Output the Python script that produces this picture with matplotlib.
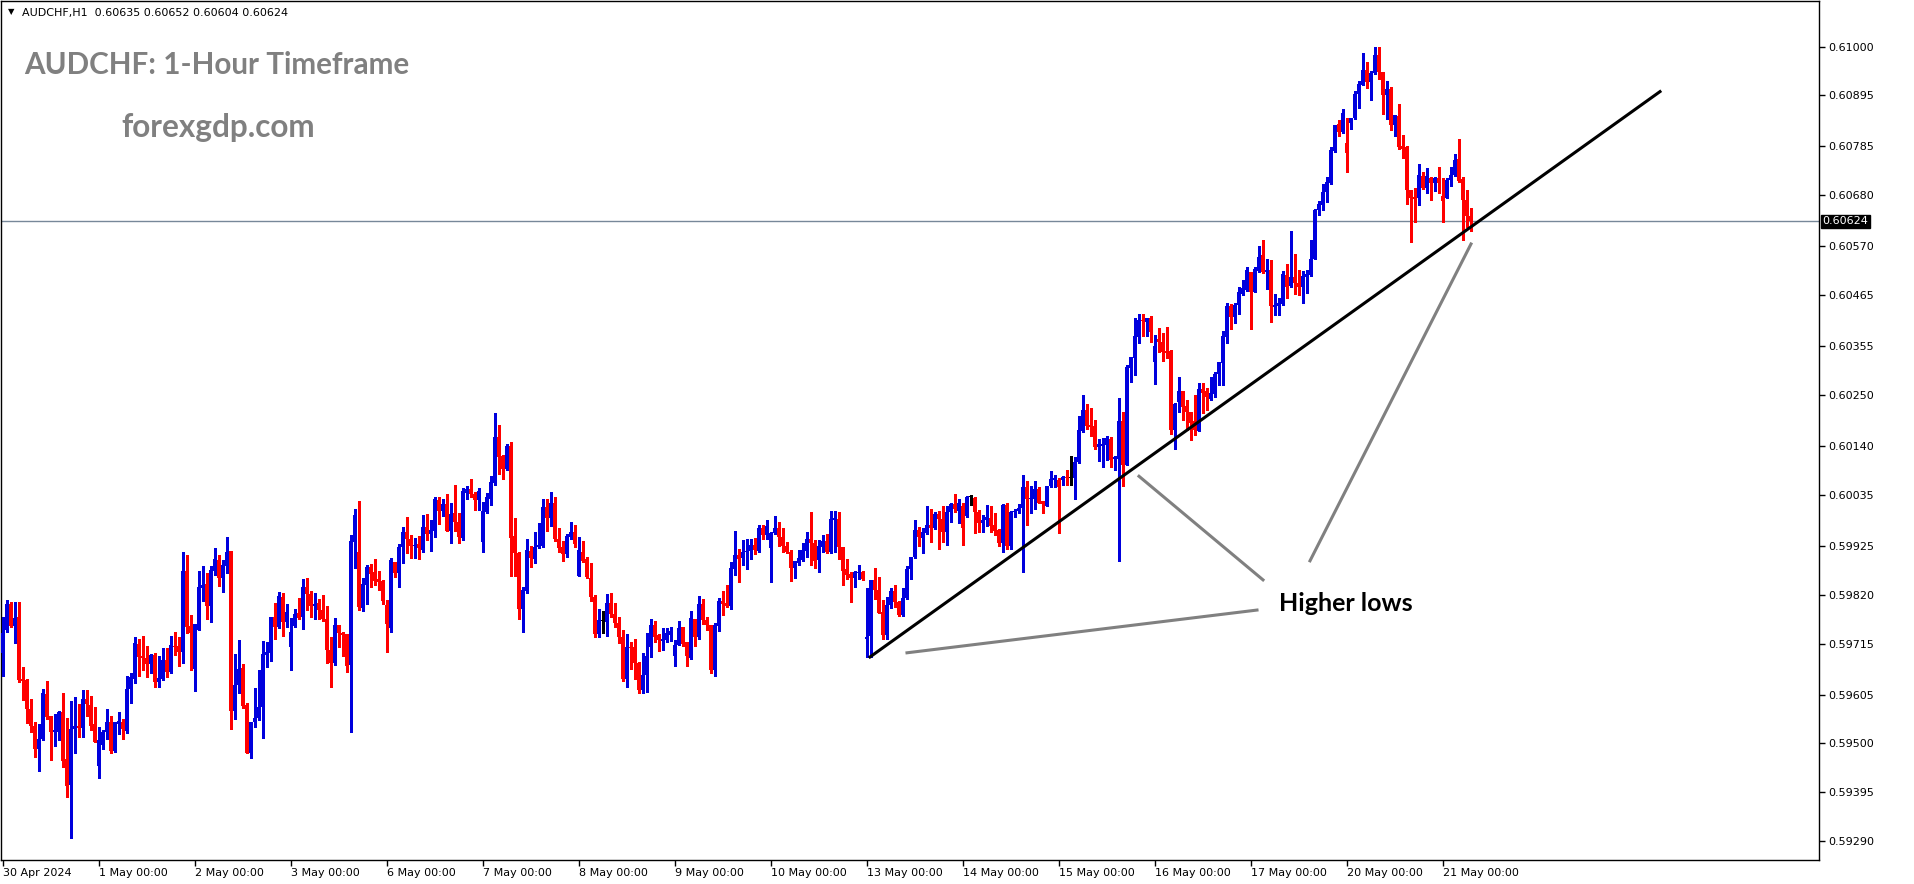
import matplotlib.pyplot as plt
import matplotlib.transforms as mtransforms
import numpy as np

# AUDCHF H1 candles, prices in 1e-5 units, bar 0 = 30 Apr 00:00
opens = [
    59694, 59743, 59800, 59753, 59772, 59638, 59636, 59574, 59538, 59488, 59509, 59607,
    59559, 59525, 59525, 59568, 59466, 59411, 59531, 59537, 59534, 59596, 59583, 59542,
    59452, 59497, 59525, 59545, 59484, 59542, 59547, 59527, 59617, 59639, 59715, 59688,
    59684, 59671, 59690, 59633, 59639, 59679, 59654, 59710, 59710, 59697, 59870, 59753,
    59661, 59744, 59834, 59843, 59796, 59871, 59895, 59857, 59882, 59914, 59570, 59625,
    59663, 59583, 59480, 59547, 59554, 59579, 59690, 59695, 59771, 59750, 59815, 59761,
    59708, 59753, 59780, 59771, 59837, 59822, 59796, 59803, 59787, 59768, 59702, 59674,
    59755, 59737, 59735, 59669, 59934, 59911, 59792, 59841, 59879, 59868, 59853, 59849,
    59798, 59748, 59890, 59867, 59922, 59954, 59939, 59925, 59929, 59916, 59966, 59951,
    59958, 60024, 60001, 60015, 59958, 59996, 59976, 59943, 60040, 60047, 60037, 60024,
    59934, 59997, 60027, 60060, 60160, 60119, 60090, 60141, 59946, 59909, 59789, 59829,
    59914, 59897, 59922, 59925, 60009, 59986, 60018, 59941, 59923, 59908, 59945, 59954,
    59861, 59912, 59897, 59857, 59816, 59735, 59764, 59762, 59803, 59778, 59760, 59730,
    59639, 59708, 59708, 59674, 59615, 59647, 59708, 59755, 59733, 59721, 59723, 59733,
    59689, 59711, 59751, 59719, 59683, 59768, 59728, 59800, 59766, 59755, 59658, 59753,
    59807, 59803, 59796, 59875, 59906, 59900, 59911, 59914, 59927, 59914, 59963, 59949,
    59921, 59952, 59964, 59944, 59925, 59911, 59877, 59888, 59895, 59915, 59941, 59931,
    59895, 59923, 59936, 59913, 59981, 59984, 59923, 59875, 59865, 59857, 59866, 59868,
    59724, 59732, 59852, 59830, 59782, 59733, 59797, 59828, 59804, 59776, 59812, 59875,
    59901, 59959, 59943, 59952, 59970, 59963, 59994, 59984, 59954, 59997, 60015, 60001,
    60011, 59989, 60031, 60029, 59997, 59974, 59981, 59986, 59970, 59960, 59931, 60013,
    59924, 59997, 60000, 60006, 60051, 60026, 60026, 60048, 60021, 60012, 60053, 60067,
    60067, 60067, 60074, 60072, 60071, 60105, 60173, 60218, 60186, 60183, 60139, 60141,
    60143, 60155, 60112, 60112, 60193, 60100, 60308, 60330, 60374, 60411, 60408, 60416,
    60322, 60370, 60365, 60345, 60345, 60175, 60234, 60258, 60226, 60213, 60194, 60173,
    60262, 60258, 60241, 60253, 60296, 60318, 60375, 60441, 60418, 60443, 60467, 60477,
    60515, 60472, 60517, 60551, 60515, 60518, 60440, 60441, 60445, 60508, 60484, 60503,
    60490, 60483, 60504, 60508, 60543, 60648, 60658, 60687, 60707, 60775, 60833, 60815,
    60793, 60836, 60846, 60897, 60918, 60949, 60924, 60942, 60981, 60945, 60895, 60908,
    60831, 60850, 60785, 60783, 60692, 60676, 60674, 60722, 60696, 60718, 60706, 60716,
    60678, 60674, 60712, 60723, 60757, 60714, 60669, 60635]
highs = [
    59773, 59809, 59805, 59805, 59805, 59665, 59639, 59596, 59547, 59542, 59617, 59634,
    59559, 59563, 59570, 59609, 59555, 59591, 59600, 59585, 59615, 59615, 59602, 59578,
    59536, 59529, 59574, 59558, 59547, 59568, 59553, 59646, 59651, 59730, 59725, 59731,
    59710, 59692, 59695, 59688, 59706, 59705, 59731, 59740, 59728, 59913, 59905, 59776,
    59758, 59870, 59882, 59866, 59882, 59920, 59905, 59895, 59945, 59914, 59692, 59723,
    59670, 59588, 59547, 59620, 59657, 59720, 59719, 59773, 59803, 59826, 59824, 59801,
    59769, 59789, 59812, 59854, 59857, 59828, 59824, 59811, 59819, 59796, 59730, 59769,
    59755, 59740, 59735, 59948, 60004, 60022, 59855, 59884, 59887, 59896, 59870, 59852,
    59809, 59900, 59890, 59929, 59966, 59988, 59948, 59942, 59946, 59992, 59994, 59981,
    60031, 60030, 60027, 60036, 60017, 60056, 59995, 60049, 60054, 60069, 60042, 60049,
    60020, 60040, 60075, 60212, 60185, 60121, 60145, 60149, 59986, 59913, 59837, 59941,
    59925, 59956, 59974, 60027, 60025, 60042, 60030, 59963, 59936, 59950, 59976, 59970,
    59945, 59936, 59902, 59889, 59819, 59789, 59784, 59822, 59824, 59803, 59771, 59744,
    59735, 59719, 59724, 59676, 59695, 59738, 59768, 59764, 59736, 59748, 59749, 59750,
    59723, 59764, 59751, 59719, 59785, 59768, 59818, 59811, 59773, 59755, 59760, 59812,
    59827, 59841, 59890, 59958, 59918, 59938, 59939, 59939, 59943, 59970, 59970, 59981,
    59956, 59989, 59977, 59963, 59934, 59916, 59893, 59916, 59931, 59954, 59999, 59938,
    59938, 59949, 59950, 60001, 60001, 59997, 59923, 59897, 59868, 59870, 59885, 59870,
    59835, 59852, 59878, 59859, 59809, 59816, 59834, 59840, 59807, 59834, 59882, 59902,
    59981, 59965, 59963, 60011, 60004, 59999, 60000, 60010, 60010, 60017, 60037, 60027,
    60017, 60032, 60035, 60031, 60003, 59991, 60013, 60011, 59996, 59961, 60016, 60017,
    60001, 60004, 60015, 60078, 60065, 60054, 60065, 60051, 60022, 60053, 60087, 60078,
    60071, 60075, 60089, 60119, 60116, 60204, 60250, 60231, 60221, 60196, 60155, 60157,
    60162, 60160, 60118, 60244, 60214, 60315, 60331, 60416, 60424, 60424, 60415, 60419,
    60379, 60395, 60384, 60397, 60347, 60232, 60288, 60258, 60239, 60213, 60249, 60276,
    60276, 60264, 60289, 60300, 60321, 60387, 60448, 60445, 60447, 60483, 60497, 60525,
    60515, 60525, 60570, 60584, 60543, 60540, 60467, 60459, 60517, 60531, 60604, 60553,
    60518, 60517, 60518, 60583, 60651, 60668, 60705, 60719, 60783, 60831, 60841, 60865,
    60847, 60847, 60904, 60925, 60986, 60967, 60947, 60998, 60998, 60945, 60925, 60913,
    60852, 60876, 60809, 60785, 60692, 60696, 60747, 60730, 60739, 60719, 60719, 60741,
    60716, 60716, 60740, 60768, 60800, 60719, 60692, 60652]
lows = [
    59644, 59739, 59751, 59717, 59633, 59593, 59543, 59524, 59471, 59441, 59507, 59553,
    59464, 59495, 59507, 59450, 59385, 59296, 59480, 59514, 59514, 59560, 59529, 59502,
    59425, 59487, 59509, 59479, 59482, 59520, 59509, 59522, 59586, 59629, 59646, 59659,
    59642, 59652, 59622, 59621, 59636, 59642, 59651, 59690, 59667, 59672, 59737, 59659,
    59613, 59743, 59807, 59768, 59762, 59862, 59839, 59825, 59867, 59532, 59553, 59608,
    59577, 59479, 59469, 59536, 59550, 59512, 59664, 59678, 59725, 59748, 59732, 59750,
    59657, 59751, 59768, 59747, 59787, 59773, 59767, 59767, 59763, 59674, 59622, 59669,
    59708, 59688, 59654, 59524, 59877, 59787, 59785, 59801, 59837, 59841, 59830, 59800,
    59697, 59740, 59859, 59836, 59889, 59909, 59900, 59898, 59896, 59913, 59938, 59915,
    59945, 59972, 59989, 59958, 59932, 59958, 59932, 59938, 60026, 60031, 60002, 60002,
    59913, 59995, 60013, 60056, 60080, 60069, 60088, 59861, 59860, 59768, 59740, 59823,
    59880, 59889, 59921, 59923, 59958, 59968, 59936, 59911, 59893, 59902, 59939, 59923,
    59861, 59890, 59857, 59807, 59728, 59728, 59738, 59732, 59773, 59750, 59717, 59635,
    59622, 59660, 59638, 59608, 59609, 59611, 59685, 59719, 59698, 59700, 59719, 59720,
    59667, 59711, 59710, 59667, 59682, 59710, 59725, 59758, 59743, 59651, 59646, 59741,
    59776, 59794, 59789, 59863, 59848, 59884, 59875, 59896, 59908, 59911, 59941, 59940,
    59848, 59951, 59925, 59911, 59909, 59850, 59857, 59885, 59892, 59901, 59884, 59878,
    59868, 59911, 59909, 59909, 59911, 59896, 59840, 59853, 59805, 59837, 59853, 59852,
    59685, 59687, 59810, 59780, 59724, 59724, 59791, 59794, 59775, 59774, 59811, 59853,
    59900, 59925, 59909, 59951, 59934, 59961, 59918, 59933, 59926, 59976, 59997, 59974,
    59927, 59988, 60013, 59952, 59954, 59954, 59968, 59956, 59949, 59924, 59911, 59918,
    59918, 59988, 59996, 59868, 59970, 59996, 60004, 60017, 59996, 60012, 60051, 60051,
    59952, 60056, 60056, 60056, 60026, 60104, 60170, 60176, 60161, 60134, 60107, 60096,
    60110, 60094, 60089, 59892, 60054, 60099, 60277, 60293, 60361, 60376, 60376, 60365,
    60274, 60343, 60323, 60330, 60165, 60133, 60214, 60196, 60174, 60153, 60163, 60173,
    60212, 60217, 60240, 60246, 60271, 60272, 60361, 60393, 60404, 60425, 60465, 60474,
    60393, 60472, 60515, 60513, 60479, 60407, 60422, 60422, 60443, 60459, 60483, 60468,
    60465, 60447, 60470, 60505, 60543, 60637, 60648, 60666, 60704, 60773, 60807, 60813,
    60730, 60822, 60845, 60868, 60918, 60911, 60884, 60940, 60931, 60854, 60843, 60821,
    60807, 60780, 60759, 60662, 60580, 60623, 60658, 60694, 60684, 60669, 60689, 60684,
    60623, 60674, 60699, 60722, 60709, 60583, 60612, 60604]
closes = [
    59737, 59800, 59753, 59770, 59636, 59635, 59575, 59538, 59488, 59509, 59609, 59556,
    59525, 59529, 59568, 59462, 59409, 59531, 59537, 59534, 59596, 59585, 59538, 59504,
    59507, 59525, 59545, 59484, 59545, 59548, 59530, 59617, 59643, 59716, 59687, 59684,
    59671, 59690, 59633, 59640, 59679, 59654, 59711, 59708, 59697, 59870, 59751, 59737,
    59758, 59837, 59841, 59796, 59873, 59897, 59857, 59884, 59912, 59570, 59626, 59661,
    59580, 59480, 59547, 59554, 59579, 59692, 59697, 59771, 59750, 59817, 59761, 59783,
    59739, 59778, 59769, 59837, 59822, 59796, 59800, 59787, 59768, 59702, 59674, 59755,
    59737, 59734, 59667, 59936, 59992, 59794, 59843, 59879, 59865, 59849, 59848, 59807,
    59757, 59895, 59867, 59923, 59954, 59939, 59925, 59927, 59920, 59966, 59951, 59959,
    60026, 60001, 60015, 59958, 59994, 59976, 59945, 60043, 60047, 60036, 60024, 60043,
    60000, 60031, 60063, 60160, 60117, 60090, 60141, 59943, 59909, 59789, 59830, 59916,
    59900, 59923, 59927, 60009, 59986, 60018, 59939, 59921, 59908, 59947, 59954, 59929,
    59916, 59893, 59859, 59816, 59735, 59766, 59764, 59803, 59778, 59760, 59730, 59639,
    59708, 59705, 59674, 59615, 59647, 59688, 59755, 59728, 59723, 59725, 59737, 59742,
    59712, 59748, 59714, 59689, 59769, 59728, 59800, 59766, 59755, 59658, 59755, 59807,
    59800, 59796, 59878, 59906, 59897, 59911, 59915, 59927, 59916, 59964, 59949, 59968,
    59952, 59964, 59944, 59925, 59911, 59878, 59893, 59898, 59916, 59940, 59931, 59893,
    59925, 59936, 59911, 59983, 59986, 59922, 59872, 59862, 59857, 59868, 59868, 59853,
    59730, 59852, 59830, 59781, 59733, 59797, 59828, 59804, 59776, 59812, 59875, 59901,
    59959, 59944, 59954, 59970, 59963, 59994, 59983, 59954, 59999, 60015, 60004, 60018,
    59963, 60031, 60031, 59997, 59974, 59981, 59987, 59967, 59958, 59931, 60013, 59924,
    59998, 60001, 60006, 60051, 60026, 60027, 60048, 60018, 60015, 60053, 60069, 60071,
    60051, 60074, 60071, 60072, 60105, 60175, 60218, 60183, 60181, 60139, 60144, 60145,
    60157, 60110, 60117, 60193, 60100, 60311, 60331, 60376, 60411, 60409, 60415, 60386,
    60355, 60365, 60343, 60341, 60175, 60230, 60259, 60224, 60213, 60190, 60174, 60262,
    60255, 60246, 60254, 60296, 60320, 60376, 60441, 60418, 60443, 60472, 60480, 60518,
    60472, 60521, 60548, 60515, 60520, 60441, 60443, 60447, 60510, 60483, 60503, 60490,
    60483, 60505, 60510, 60543, 60649, 60660, 60687, 60709, 60777, 60831, 60816, 60856,
    60771, 60847, 60897, 60919, 60949, 60924, 60943, 60981, 60945, 60895, 60909, 60831,
    60852, 60784, 60780, 60691, 60674, 60671, 60723, 60696, 60722, 60706, 60717, 60706,
    60668, 60712, 60723, 60755, 60710, 60669, 60635, 60624]

day_labels = ["30 Apr 2024", "1 May 00:00", "2 May 00:00", "3 May 00:00", "6 May 00:00",
              "7 May 00:00", "8 May 00:00", "9 May 00:00", "10 May 00:00", "13 May 00:00",
              "14 May 00:00", "15 May 00:00", "16 May 00:00", "17 May 00:00", "20 May 00:00",
              "21 May 00:00"]
price_ticks = [0.61000, 0.60895, 0.60785, 0.60680, 0.60570, 0.60465, 0.60355, 0.60250,
               0.60140, 0.60035, 0.59925, 0.59820, 0.59715, 0.59605, 0.59500, 0.59395, 0.59290]
last_price = 0.60624
header = "AUDCHF,H1  0.60635 0.60652 0.60604 0.60624"

# drawn objects, (bar index, price)
trend_line = [(216.75, 0.59686), (414.25, 0.60903)]
pointer_lines = [[(226.0, 0.59695), (313.5, 0.59787)],
                 [(284.0, 0.60075), (315.0, 0.59852)],
                 [(326.75, 0.59893), (367.0, 0.60575)]]
note_pos = (319, 0.59802)

o = np.array(opens) / 1e5
h = np.array(highs) / 1e5
l = np.array(lows) / 1e5
c = np.array(closes) / 1e5
x = np.arange(len(o))

W, H = 1914, 884
fig = plt.figure(figsize=(W / 100, H / 100), dpi=100)
ax = fig.add_axes([1 / W, 1 - 860 / H, 1818 / W, 859 / H])

cols = np.where(c > o, "#0000dd", np.where(c < o, "#ff0000", "black"))
body_lo = np.minimum(o, c)
body_h = np.maximum(np.abs(c - o), 0.000022)
ax.vlines(x, l, h, colors=cols, lw=0.8, antialiased=False, zorder=3)
ax.bar(x, body_h, bottom=body_lo, width=0.82, color=cols, linewidth=0,
       antialiased=False, zorder=4)

ax.axhline(last_price, color="#778899", lw=1, zorder=2)

(x0, y0), (x1, y1) = trend_line
ax.plot([x0, x1], [y0, y1], color="black", lw=2.2, zorder=5)
for seg in pointer_lines:
    ax.plot([seg[0][0], seg[1][0]], [seg[0][1], seg[1][1]], color="#808080", lw=2.2, zorder=5)
ax.text(note_pos[0], note_pos[1], "Higher lows", fontsize=18, fontweight="bold",
        family="Lato", color="black", va="center", ha="left", zorder=6)

ax.set_xlim(-0.5, 454)
ax.set_ylim(0.59249, 0.61098)

ax.yaxis.tick_right()
ax.set_yticks(price_ticks)
ax.set_yticklabels(["%.5f" % p for p in price_ticks])
ax.tick_params(axis="y", direction="out", length=4, width=1, pad=3, labelsize=8)
ax.set_xticks(np.arange(len(day_labels)) * 24)
ax.set_xticklabels(day_labels)
for lab in ax.get_xticklabels():
    lab.set_horizontalalignment("left")
ax.tick_params(axis="x", direction="out", length=4, width=1, pad=2, labelsize=8)
for sp in ax.spines.values():
    sp.set_linewidth(1)
    sp.set_color("black")

trans = mtransforms.blended_transform_factory(ax.transAxes, ax.transData)
ax.text(1.002, last_price, "%.5f" % last_price, transform=trans, fontsize=8, color="white",
        va="center", ha="left",
        bbox=dict(boxstyle="square,pad=0.15", fc="black", ec="black"))

fig.text(8 / W, 1 - 12 / H, "\u25bc", fontsize=6, va="center", ha="left")
fig.text(22 / W, 1 - 13 / H, header, fontsize=8, va="center", ha="left")
fig.text(24 / W, 1 - 65 / H, "AUDCHF: 1-Hour Timeframe", fontsize=21.3, fontweight="bold",
         family="Lato", color="#808080", va="center", ha="left")
fig.text(121 / W, 1 - 128 / H, "forexgdp.com", fontsize=22.7, fontweight="bold",
         family="Lato", color="#808080", va="center", ha="left")

fig.savefig("out.png", dpi=100)
